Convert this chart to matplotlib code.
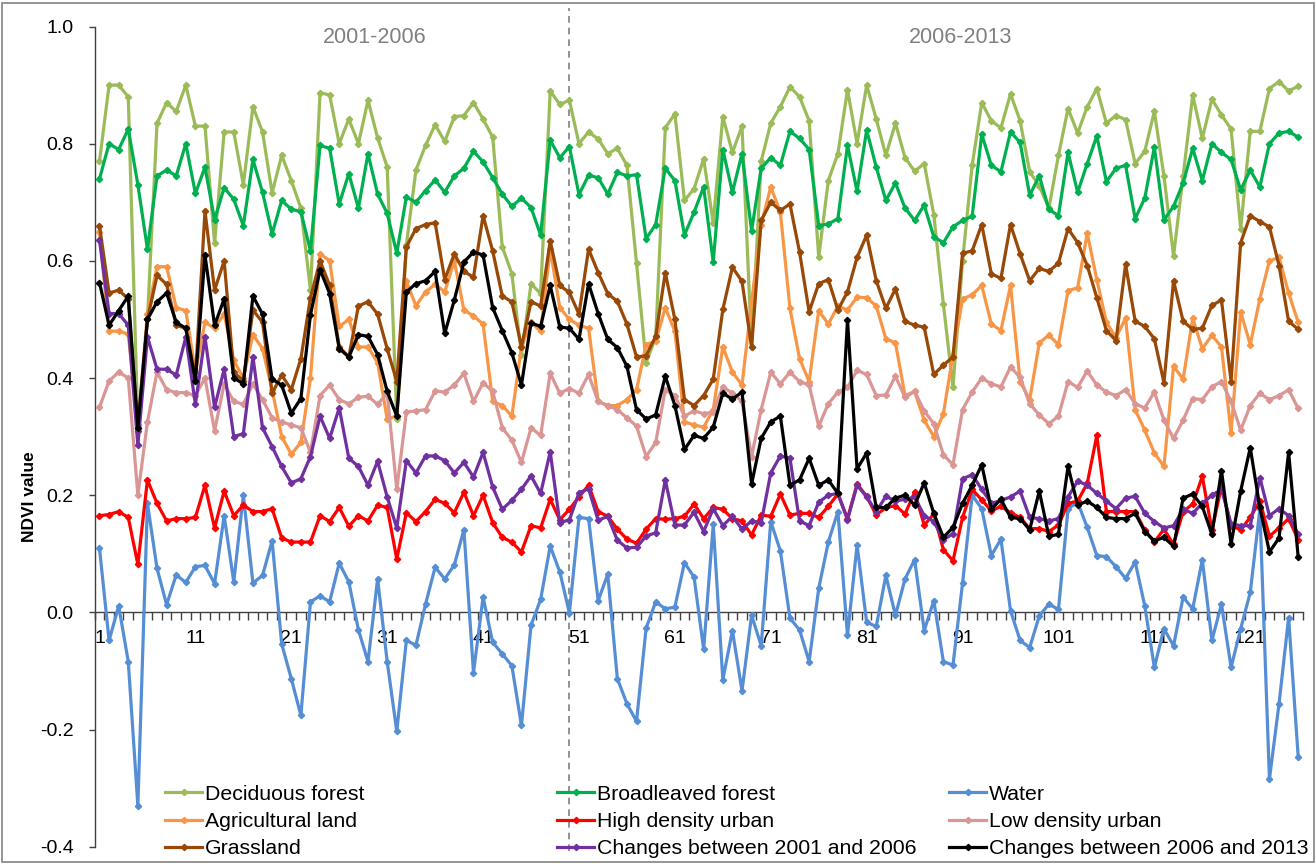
import numpy as np
import matplotlib
matplotlib.use("Agg")
import matplotlib.pyplot as plt
from matplotlib.patches import Rectangle

plt.rcParams['font.family'] = ['Liberation Sans', 'DejaVu Sans']
plt.rcParams['axes.unicode_minus'] = False

periods = np.arange(1, 127)

deciduous = [0.77, 0.90, 0.90, 0.88, 0.32, 0.50, 0.835, 0.87, 0.855, 0.90,
             0.83, 0.83, 0.63, 0.82, 0.82, 0.73, 0.863, 0.82, 0.716, 0.78,
             0.737, 0.69, 0.55, 0.887, 0.883, 0.80, 0.842, 0.80, 0.874, 0.81,
             0.76, 0.33, 0.627, 0.755, 0.797, 0.832, 0.804, 0.846, 0.848, 0.87,
             0.842, 0.811, 0.624, 0.578, 0.44, 0.561, 0.544, 0.89, 0.867, 0.874,
             0.80, 0.82, 0.808, 0.783, 0.792, 0.763, 0.596, 0.426, 0.47, 0.827,
             0.851, 0.703, 0.723, 0.774, 0.665, 0.846, 0.785, 0.83, 0.453, 0.77,
             0.835, 0.863, 0.897, 0.88, 0.839, 0.606, 0.737, 0.783, 0.892, 0.80,
             0.90, 0.842, 0.78, 0.835, 0.776, 0.753, 0.766, 0.679, 0.526, 0.384,
             0.60, 0.763, 0.87, 0.839, 0.827, 0.885, 0.839, 0.752, 0.728, 0.69,
             0.78, 0.86, 0.818, 0.863, 0.894, 0.835, 0.848, 0.841, 0.766, 0.787,
             0.855, 0.745, 0.608, 0.745, 0.883, 0.809, 0.876, 0.849, 0.825, 0.655,
             0.821, 0.821, 0.894, 0.906, 0.89, 0.898]

broadleaved = [0.74, 0.80, 0.79, 0.825, 0.73, 0.62, 0.745, 0.755, 0.745, 0.80,
               0.715, 0.76, 0.67, 0.725, 0.705, 0.66, 0.773, 0.717, 0.646, 0.703,
               0.688, 0.684, 0.617, 0.797, 0.792, 0.697, 0.749, 0.69, 0.783, 0.714,
               0.681, 0.613, 0.709, 0.70, 0.72, 0.738, 0.717, 0.745, 0.758, 0.787,
               0.769, 0.742, 0.714, 0.693, 0.707, 0.691, 0.644, 0.806, 0.776, 0.795,
               0.713, 0.746, 0.742, 0.714, 0.751, 0.745, 0.747, 0.638, 0.662, 0.758,
               0.737, 0.644, 0.683, 0.726, 0.598, 0.79, 0.717, 0.783, 0.651, 0.758,
               0.776, 0.763, 0.821, 0.809, 0.79, 0.66, 0.663, 0.672, 0.797, 0.719,
               0.823, 0.76, 0.703, 0.733, 0.69, 0.669, 0.695, 0.641, 0.631, 0.658,
               0.669, 0.676, 0.816, 0.763, 0.752, 0.82, 0.802, 0.712, 0.745, 0.688,
               0.677, 0.785, 0.717, 0.766, 0.813, 0.735, 0.758, 0.763, 0.672, 0.707,
               0.794, 0.67, 0.693, 0.733, 0.792, 0.737, 0.80, 0.785, 0.773, 0.721,
               0.755, 0.726, 0.80, 0.818, 0.821, 0.811]

water = [0.109, -0.048, 0.011, -0.084, -0.33, 0.186, 0.075, 0.013, 0.064, 0.051,
         0.078, 0.08, 0.049, 0.165, 0.052, 0.20, 0.05, 0.063, 0.122, -0.054,
         -0.113, -0.176, 0.018, 0.028, 0.018, 0.084, 0.052, -0.03, -0.084, 0.057,
         -0.084, -0.203, -0.048, -0.056, 0.014, 0.077, 0.057, 0.081, 0.141, -0.103,
         0.026, -0.051, -0.071, -0.091, -0.193, -0.022, 0.022, 0.113, 0.069, -0.001,
         0.162, 0.16, 0.02, 0.065, -0.113, -0.156, -0.186, -0.027, 0.018, 0.006,
         0.009, 0.085, 0.06, -0.063, 0.15, -0.115, -0.031, -0.134, -0.005, -0.057,
         0.155, 0.105, -0.01, -0.03, -0.084, 0.041, 0.12, 0.172, -0.039, 0.115,
         -0.017, -0.024, 0.063, -0.005, 0.057, 0.09, -0.031, 0.02, -0.084, -0.09,
         0.05, 0.20, 0.177, 0.097, 0.125, 0.003, -0.048, -0.06, -0.006, 0.014,
         0.005, 0.177, 0.188, 0.145, 0.097, 0.095, 0.078, 0.058, 0.086, 0.011,
         -0.094, -0.028, -0.057, 0.026, 0.006, 0.09, -0.048, 0.014, -0.094, -0.028,
         0.034, 0.176, -0.285, -0.156, -0.009, -0.247]

agricultural = [0.65, 0.48, 0.48, 0.475, 0.32, 0.51, 0.59, 0.59, 0.52, 0.515,
                0.41, 0.495, 0.485, 0.51, 0.43, 0.40, 0.474, 0.45, 0.38, 0.30,
                0.27, 0.29, 0.40, 0.612, 0.60, 0.488, 0.50, 0.453, 0.453, 0.426,
                0.33, 0.335, 0.565, 0.523, 0.547, 0.56, 0.547, 0.60, 0.516, 0.506,
                0.492, 0.36, 0.353, 0.335, 0.453, 0.495, 0.48, 0.62, 0.52, 0.50,
                0.49, 0.485, 0.36, 0.353, 0.353, 0.363, 0.38, 0.457, 0.463, 0.52,
                0.48, 0.325, 0.32, 0.316, 0.346, 0.453, 0.41, 0.388, 0.53, 0.662,
                0.726, 0.683, 0.519, 0.433, 0.394, 0.515, 0.492, 0.523, 0.516, 0.538,
                0.537, 0.523, 0.467, 0.46, 0.37, 0.377, 0.328, 0.30, 0.339, 0.44,
                0.535, 0.542, 0.558, 0.492, 0.481, 0.558, 0.394, 0.363, 0.46, 0.473,
                0.457, 0.549, 0.554, 0.647, 0.568, 0.495, 0.469, 0.502, 0.346, 0.311,
                0.272, 0.249, 0.42, 0.398, 0.502, 0.45, 0.473, 0.453, 0.306, 0.513,
                0.457, 0.535, 0.60, 0.606, 0.545, 0.495]

high_density = [0.165, 0.167, 0.172, 0.162, 0.082, 0.226, 0.186, 0.156, 0.16, 0.16,
                0.162, 0.217, 0.144, 0.207, 0.165, 0.183, 0.172, 0.172, 0.177, 0.127,
                0.12, 0.12, 0.12, 0.165, 0.155, 0.179, 0.147, 0.165, 0.156, 0.183,
                0.179, 0.091, 0.17, 0.155, 0.172, 0.193, 0.186, 0.17, 0.205, 0.165,
                0.20, 0.153, 0.128, 0.12, 0.103, 0.148, 0.144, 0.193, 0.158, 0.176,
                0.197, 0.217, 0.172, 0.164, 0.142, 0.125, 0.118, 0.142, 0.16, 0.159,
                0.16, 0.164, 0.185, 0.16, 0.179, 0.176, 0.16, 0.156, 0.132, 0.166,
                0.164, 0.202, 0.166, 0.169, 0.169, 0.162, 0.181, 0.202, 0.16, 0.219,
                0.198, 0.166, 0.179, 0.182, 0.168, 0.205, 0.149, 0.168, 0.107, 0.088,
                0.162, 0.21, 0.192, 0.173, 0.181, 0.17, 0.162, 0.143, 0.143, 0.138,
                0.149, 0.186, 0.19, 0.22, 0.302, 0.172, 0.172, 0.172, 0.172, 0.14,
                0.12, 0.142, 0.116, 0.172, 0.185, 0.232, 0.14, 0.215, 0.148, 0.141,
                0.162, 0.19, 0.13, 0.144, 0.16, 0.124]

low_density = [0.35, 0.395, 0.41, 0.40, 0.20, 0.325, 0.41, 0.38, 0.375, 0.375,
               0.37, 0.40, 0.31, 0.39, 0.36, 0.355, 0.39, 0.363, 0.332, 0.325,
               0.32, 0.315, 0.273, 0.37, 0.388, 0.363, 0.356, 0.367, 0.369, 0.355,
               0.374, 0.21, 0.342, 0.344, 0.346, 0.378, 0.376, 0.388, 0.408, 0.36,
               0.392, 0.377, 0.315, 0.294, 0.256, 0.315, 0.302, 0.408, 0.374, 0.382,
               0.374, 0.406, 0.36, 0.353, 0.346, 0.332, 0.318, 0.266, 0.29, 0.38,
               0.37, 0.335, 0.344, 0.339, 0.342, 0.385, 0.374, 0.36, 0.266, 0.346,
               0.41, 0.39, 0.41, 0.394, 0.388, 0.318, 0.356, 0.376, 0.384, 0.413,
               0.406, 0.37, 0.371, 0.403, 0.367, 0.377, 0.344, 0.322, 0.269, 0.252,
               0.346, 0.376, 0.40, 0.39, 0.385, 0.419, 0.401, 0.356, 0.337, 0.322,
               0.335, 0.394, 0.384, 0.412, 0.388, 0.376, 0.37, 0.38, 0.356, 0.349,
               0.376, 0.328, 0.297, 0.328, 0.365, 0.363, 0.385, 0.394, 0.36, 0.311,
               0.353, 0.374, 0.363, 0.37, 0.38, 0.348]

grassland = [0.66, 0.545, 0.55, 0.535, 0.31, 0.50, 0.575, 0.56, 0.49, 0.485,
             0.40, 0.685, 0.55, 0.60, 0.41, 0.395, 0.516, 0.495, 0.374, 0.405,
             0.38, 0.433, 0.537, 0.60, 0.558, 0.453, 0.436, 0.523, 0.53, 0.509,
             0.45, 0.394, 0.624, 0.655, 0.662, 0.665, 0.568, 0.612, 0.582, 0.572,
             0.677, 0.617, 0.54, 0.53, 0.453, 0.53, 0.523, 0.634, 0.558, 0.546,
             0.509, 0.62, 0.58, 0.544, 0.531, 0.492, 0.436, 0.438, 0.471, 0.58,
             0.50, 0.363, 0.353, 0.37, 0.398, 0.517, 0.589, 0.565, 0.453, 0.669,
             0.70, 0.686, 0.697, 0.615, 0.513, 0.561, 0.568, 0.516, 0.547, 0.606,
             0.644, 0.566, 0.519, 0.552, 0.497, 0.49, 0.487, 0.406, 0.422, 0.436,
             0.613, 0.617, 0.662, 0.578, 0.57, 0.662, 0.612, 0.566, 0.587, 0.582,
             0.596, 0.655, 0.631, 0.592, 0.537, 0.481, 0.464, 0.594, 0.497, 0.488,
             0.467, 0.392, 0.566, 0.497, 0.483, 0.485, 0.524, 0.533, 0.394, 0.631,
             0.677, 0.667, 0.658, 0.592, 0.497, 0.483]

changes_0106 = [0.635, 0.51, 0.51, 0.49, 0.285, 0.47, 0.415, 0.415, 0.405, 0.47,
                0.355, 0.47, 0.35, 0.415, 0.30, 0.305, 0.436, 0.315, 0.283, 0.249,
                0.221, 0.228, 0.266, 0.335, 0.297, 0.349, 0.263, 0.249, 0.217, 0.258,
                0.197, 0.144, 0.259, 0.238, 0.267, 0.267, 0.259, 0.238, 0.256, 0.231,
                0.273, 0.214, 0.176, 0.191, 0.21, 0.233, 0.203, 0.274, 0.153, 0.158,
                0.204, 0.211, 0.157, 0.164, 0.123, 0.11, 0.111, 0.13, 0.136, 0.226,
                0.149, 0.149, 0.171, 0.138, 0.177, 0.148, 0.164, 0.142, 0.156, 0.153,
                0.238, 0.267, 0.263, 0.156, 0.148, 0.188, 0.20, 0.203, 0.158, 0.217,
                0.197, 0.172, 0.198, 0.19, 0.193, 0.197, 0.165, 0.155, 0.124, 0.134,
                0.228, 0.235, 0.21, 0.186, 0.191, 0.197, 0.207, 0.162, 0.16, 0.156,
                0.16, 0.197, 0.224, 0.217, 0.203, 0.19, 0.177, 0.195, 0.198, 0.169,
                0.155, 0.144, 0.148, 0.176, 0.169, 0.186, 0.20, 0.21, 0.151, 0.148,
                0.148, 0.23, 0.165, 0.177, 0.165, 0.133]

changes_0613 = [0.563, 0.49, 0.515, 0.54, 0.315, 0.50, 0.53, 0.545, 0.495, 0.485,
                0.395, 0.61, 0.49, 0.535, 0.40, 0.39, 0.54, 0.509, 0.398, 0.388,
                0.34, 0.365, 0.508, 0.585, 0.544, 0.45, 0.436, 0.474, 0.471, 0.44,
                0.377, 0.335, 0.547, 0.561, 0.566, 0.582, 0.476, 0.533, 0.598, 0.615,
                0.61, 0.52, 0.481, 0.443, 0.388, 0.494, 0.488, 0.558, 0.487, 0.485,
                0.466, 0.561, 0.51, 0.466, 0.452, 0.42, 0.346, 0.33, 0.337, 0.403,
                0.353, 0.278, 0.302, 0.297, 0.316, 0.374, 0.364, 0.376, 0.219, 0.297,
                0.325, 0.335, 0.217, 0.226, 0.263, 0.217, 0.226, 0.203, 0.499, 0.245,
                0.272, 0.179, 0.179, 0.195, 0.20, 0.183, 0.221, 0.169, 0.128, 0.145,
                0.186, 0.217, 0.252, 0.176, 0.193, 0.162, 0.16, 0.141, 0.207, 0.13,
                0.133, 0.249, 0.183, 0.19, 0.179, 0.162, 0.16, 0.16, 0.169, 0.138,
                0.122, 0.128, 0.113, 0.195, 0.202, 0.181, 0.133, 0.242, 0.117, 0.207,
                0.281, 0.179, 0.103, 0.127, 0.273, 0.094]

series_names = ["Deciduous forest", "Broadleaved forest", "Water",
                "Agricultural land", "High density urban", "Low density urban",
                "Grassland", "Changes between 2001 and 2006",
                "Changes between 2006 and 2013"]
series_values = [deciduous, broadleaved, water, agricultural, high_density,
                 low_density, grassland, changes_0106, changes_0613]
series_colors = ["#9BBB59", "#00B050", "#558ED5", "#F79646", "#FF0000",
                 "#D99694", "#984807", "#7030A0", "#000000"]

xtick_values = list(range(1, 127, 10))
xtick_labels = [str(v) for v in xtick_values]
ytick_values = [-0.4, -0.2, 0.0, 0.2, 0.4, 0.6, 0.8, 1.0]
ytick_labels = ["-0.4", "-0.2", "0.0", "0.2", "0.4", "0.6", "0.8", "1.0"]
period_labels = ["2001-2006", "2006-2013"]
period_label_x = [29.7, 90.8]
split_period = 50

W, H = 1316, 865
fig = plt.figure(figsize=(W / 100, H / 100), dpi=100)
ax_left, ax_right, ax_top, ax_bottom = 94.7, 1303.0, 26.5, 846.7
ax = fig.add_axes([ax_left / W, 1 - ax_bottom / H,
                   (ax_right - ax_left) / W, (ax_bottom - ax_top) / H])

handles = []
for name, vals, col in zip(series_names, series_values, series_colors):
    h, = ax.plot(periods, vals, color=col, lw=2.3, marker='D', ms=3.2,
                 mfc=col, mec=col, label=name, zorder=3)
    handles.append(h)

ax.axvline(split_period, ymin=-0.005, ymax=1.022, color='#7f7f7f', lw=1.2,
           ls=(0, (4, 3)), zorder=2, clip_on=False)

ax.set_xlim(0.5, 126.5)
ax.set_ylim(-0.4, 1.0)

for s in ['top', 'right']:
    ax.spines[s].set_visible(False)
ax.spines['bottom'].set_position(('data', 0))
for s in ['left', 'bottom']:
    ax.spines[s].set_color('#404040')
    ax.spines[s].set_linewidth(1.0)

ax.set_xticks(xtick_values)
ax.set_xticklabels(xtick_labels)
ax.set_xticks(np.arange(0.5, 127, 1), minor=True)
ax.tick_params(axis='x', which='major', length=0, pad=13, labelsize=14)
ax.tick_params(axis='x', which='minor', length=6, width=1, color='#404040',
               direction='out')
ax.set_yticks(ytick_values)
ax.set_yticklabels(ytick_labels)
ax.tick_params(axis='y', length=4, width=1, color='#404040', pad=11,
               labelsize=14)

for lab, xv in zip(period_labels, period_label_x):
    ax.text(xv, 0.982, lab, ha='center', va='center', color='#808080',
            fontsize=15.5)

fig.text(30 / W, 1 - 497 / H, "NDVI value", rotation=90, ha='center',
         va='center', fontsize=12.5, fontweight='bold')

col_groups = [[0, 3, 6], [1, 4, 7], [2, 5, 8]]
col_x = [165, 557, 949]
for grp, cx in zip(col_groups, col_x):
    leg = fig.legend([handles[i] for i in grp], [series_names[i] for i in grp],
                     loc='center left', bbox_to_anchor=(cx / W, 1 - 821.5 / H),
                     bbox_transform=fig.transFigure, frameon=False,
                     borderpad=0, borderaxespad=0, handlelength=1.75,
                     handletextpad=0.15, labelspacing=0.38, fontsize=15.3,
                     numpoints=1)

fig.patches.append(Rectangle((2 / W, 3 / H), (W - 4) / W, (H - 6) / H,
                             transform=fig.transFigure, fill=False,
                             ec='#8c8c8c', lw=1.3))

fig.savefig("out.png", dpi=100)
